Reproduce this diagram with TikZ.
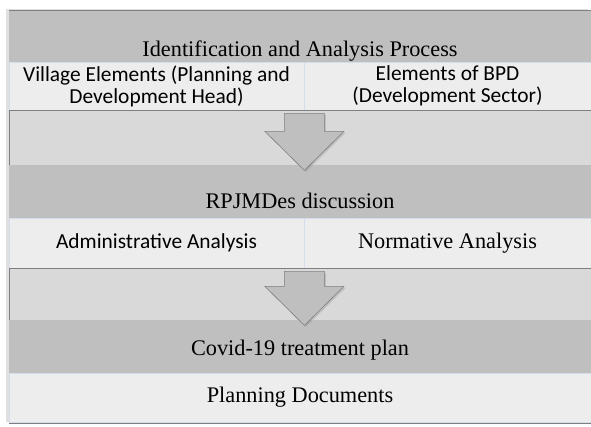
\documentclass[tikz,border=0pt]{standalone}
\usepackage{fontspec}
\setmainfont{Liberation Serif}
\newfontfamily\calibri{Carlito}
\usetikzlibrary{shadows}

\definecolor{bandgray}{HTML}{BFBFBF}
\definecolor{gapgray}{HTML}{D9D9D9}
\definecolor{rowgray}{HTML}{EDEDED}
\definecolor{rowline}{HTML}{D3DDEB}
\definecolor{framegray}{HTML}{7F7F7F}

\tikzset{
  band/.style={fill=bandgray, minimum width=582pt, minimum height=53pt, inner sep=0pt,
    text depth=0pt, font=\fontsize{22.3}{26}\selectfont},
  gap/.style={fill=gapgray, draw=framegray, line width=0.6pt, minimum width=582pt, inner sep=0pt},
  cell/.style={fill=rowgray, draw=rowline, line width=0.8pt, inner sep=0pt, align=center,
    minimum height=48pt},
  sanscell/.style={cell, font=\calibri\fontsize{21.4}{22}\selectfont},
  serifcell/.style={cell, font=\fontsize{22.3}{24}\selectfont},
  oneline/.style={text height=15pt, text depth=5pt},
  bigarrow/.style={fill=bandgray, draw=framegray, line width=0.6pt,
    drop shadow={shadow xshift=1.5pt, shadow yshift=-1.5pt, opacity=0.3}},
}

\begin{document}
\begin{tikzpicture}[x=1pt,y=1pt]
  \useasboundingbox (0,0) rectangle (591,-426);
  \node[draw=framegray, line width=1pt, fill=white, minimum width=582pt, minimum height=413pt,
    inner sep=0pt, general shadow={shadow xshift=-3pt, shadow yshift=2pt, fill=black, opacity=0.12}]
    (frame) at (300,-217) {};

  \node[band, minimum height=51pt, text height=39pt] (ident) at (300,-36.5) {Identification and Analysis Process};
  \node[sanscell, minimum width=295pt] (vill) at (156.5,-86) {Village Elements (Planning and\\Development Head)};
  \node[sanscell, minimum width=287pt] (elem) at (447.5,-86) {Elements of BPD\\(Development Sector)};
  \node[gap, minimum height=55pt] (gap1) at (300,-137.5) {};

  \node[band, text height=33pt] (disc) at (300,-191.5) {RPJMDes discussion};
  \node[sanscell, oneline, minimum width=295pt, minimum height=50pt] (adm) at (156.5,-243) {Administrative Analysis};
  \node[serifcell, oneline, minimum width=287pt, minimum height=50pt] (norm) at (447.5,-243) {Normative Analysis};
  \node[gap, minimum height=52pt] (gap2) at (300,-294) {};

  \node[band, text height=17pt] (covid) at (300,-346.5) {Covid-19 treatment plan};
  \node[serifcell, oneline, minimum width=582pt, minimum height=49pt] (plan) at (300,-397.5) {Planning Documents};

  \draw[bigarrow] ([yshift=-3pt]vill.south east) ++(-20,0) -- ++(0,-18) -- ++(-19.5,0)
    -- ++(39.5,-39) -- ++(39.5,39) -- ++(-19.5,0) -- ++(0,18) -- cycle;
  \draw[bigarrow] ([yshift=-3pt]adm.south east) ++(-20,0) -- ++(0,-15) -- ++(-19.5,0)
    -- ++(39.5,-39) -- ++(39.5,39) -- ++(-19.5,0) -- ++(0,15) -- cycle;

\end{tikzpicture}
\end{document}
